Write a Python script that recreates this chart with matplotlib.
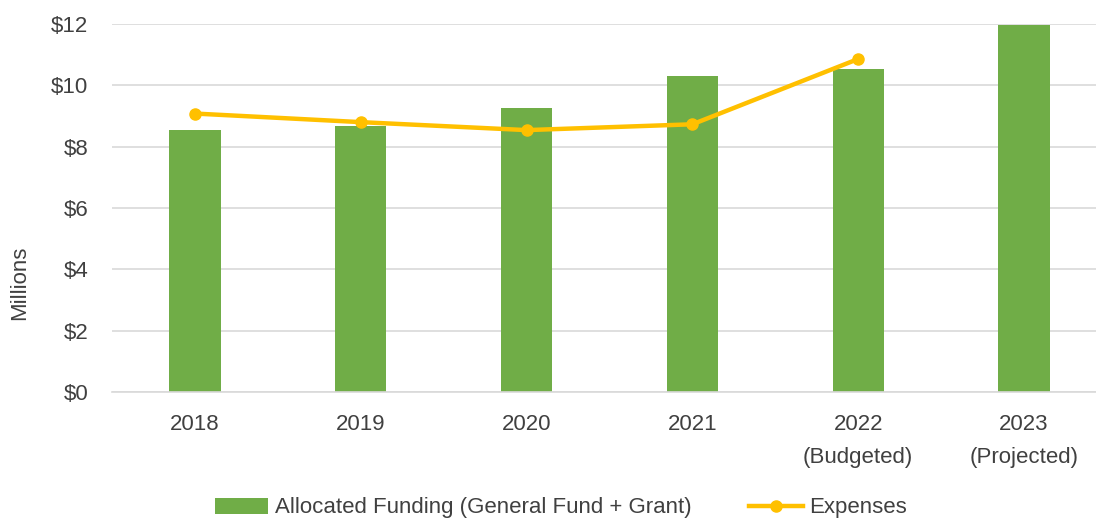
import matplotlib.pyplot as plt
import numpy as np
from matplotlib.ticker import FuncFormatter

plt.rcParams['font.family'] = ['Liberation Sans', 'DejaVu Sans']

# dados (milhões de US$)
years = ['2018', '2019', '2020', '2021', '2022\n(Budgeted)', '2023\n(Projected)']
funding = [8.53, 8.66, 9.26, 10.30, 10.54, 11.97]
expenses = [9.08, 8.80, 8.54, 8.73, 10.86]

GREEN = '#70AD47'
GOLD = '#FFC000'
GRID = '#D9D9D9'
TEXT = '#404040'

fig = plt.figure(figsize=(10.96, 5.21), dpi=100)
ax = fig.add_axes([112 / 1096, 129 / 521, 995 / 1096, 368 / 521])

x = np.arange(len(years))
bars = ax.bar(x, funding, width=0.31, color=GREEN, zorder=2,
              label='Allocated Funding (General Fund + Grant)')
line, = ax.plot(x[:len(expenses)], expenses, '-o', color=GOLD, linewidth=3.2,
                markersize=8, zorder=3, label='Expenses')

ax.set_xlim(-0.5, len(years) - 0.5)
ax.set_ylim(0, 12)
ax.set_yticks(np.arange(0, 13, 2))
ax.yaxis.set_major_formatter(FuncFormatter(lambda v, p: f'${v:.0f}'))
ax.set_xticks(x)
ax.set_xticklabels(years, linespacing=1.75)

ax.grid(axis='y', color=GRID, linewidth=1.2, zorder=0)
for s in ['top', 'right', 'left']:
    ax.spines[s].set_visible(False)
ax.spines['bottom'].set_color(GRID)
ax.spines['bottom'].set_linewidth(1.2)
ax.tick_params(axis='both', length=0, labelsize=16, colors=TEXT)
ax.tick_params(axis='y', pad=17)
ax.tick_params(axis='x', pad=16)

fig.text(20 / 1096, 1 - 283 / 521, 'Millions', rotation=90, ha='center', va='center',
         fontsize=16, color=TEXT)

fig.legend([bars, line], [bars.get_label(), line.get_label()], loc='center',
           bbox_to_anchor=(561 / 1096, 1 - 508 / 521), ncol=2,
           frameon=False, fontsize=16, labelcolor=TEXT, handlelength=2.4,
           handletextpad=0.3, columnspacing=2.6)

plt.savefig('out.png', dpi=100)
